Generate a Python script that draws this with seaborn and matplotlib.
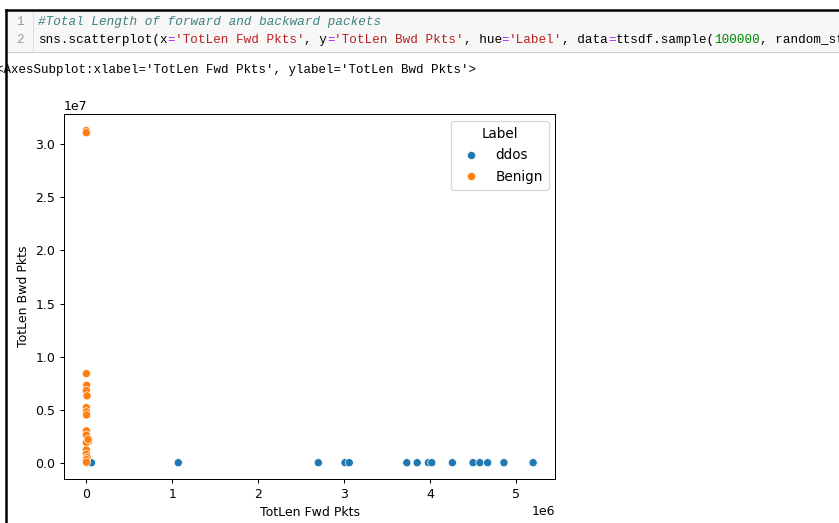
import pandas as pd
import numpy as np
import matplotlib
matplotlib.use('Agg')
import matplotlib.pyplot as plt
import seaborn as sns
from matplotlib.patches import Rectangle
from matplotlib.lines import Line2D

# ddos flows: almost no backward bytes, big forward totals
ddos_fwd = [10000, 60000, 1070000, 2700000, 3010000, 3060000, 3730000, 3850000,
            3980000, 4020000, 4260000, 4500000, 4580000, 4670000, 4860000, 5200000]
ddos_bwd = [0] * len(ddos_fwd)

# benign flows: tiny forward, spread of backward totals
benign_fwd = [0, 0, 0, 5000, 0, 8000, 0, 0, 3000, 0, 0, 27000, 0, 20000,
              0, 0, 10000, 0, 0]
benign_bwd = [31300000, 31100000, 8400000, 7300000, 6800000, 6300000, 5200000,
              4800000, 4500000, 3000000, 2600000, 2000000, 1900000, 2200000,
              1200000, 800000, 500000, 300000, 50000]

labels = ['ddos'] * len(ddos_fwd) + ['Benign'] * len(benign_fwd)
ttsdf = pd.DataFrame({
    'TotLen Fwd Pkts': ddos_fwd + benign_fwd,
    'TotLen Bwd Pkts': ddos_bwd + benign_bwd,
    'Label': labels,
})

W, H = 839, 523
DPI = 90
fig = plt.figure(figsize=(W / DPI, H / DPI), dpi=DPI)

def fx(px):
    return px / W

def fy(py):
    return 1 - py / H

def pt(px):
    return px * 72 / DPI

# notebook cell chrome
fig.add_artist(Rectangle((fx(7), fy(52)), fx(W - 7), fy(11) - fy(52),
                         facecolor='#f7f7f7', edgecolor='none'))
fig.add_artist(Line2D([fx(7), 1], [fy(52), fy(52)], color='#cfcfcf', lw=0.8))
fig.add_artist(Line2D([fx(33), fx(33)], [fy(11), fy(52)], color='#dddddd', lw=0.8))
fig.add_artist(Line2D([fx(6), 1], [fy(10), fy(10)], color='black', lw=pt(2.5)))
fig.add_artist(Line2D([fx(6), fx(6)], [fy(10), 0], color='black', lw=pt(2.5)))

mono = 'Liberation Mono'
cw = 7.6                 # px per char
fs = pt(cw / 0.6)

fig.text(fx(20), fy(22), '1', family=mono, fontsize=fs, color='#999999', ha='center', va='center')
fig.text(fx(20), fy(40), '2', family=mono, fontsize=fs, color='#999999', ha='center', va='center')
fig.text(fx(38), fy(22), '#Total Length of forward and backward packets', family=mono,
         fontsize=fs, color='#408080', style='italic', va='center')

segments = [
    ("sns.scatterplot(x", 'black'), ("=", '#aa22ff'), ("'TotLen Fwd Pkts'", '#ba2121'),
    (", y", 'black'), ("=", '#aa22ff'), ("'TotLen Bwd Pkts'", '#ba2121'),
    (", hue", 'black'), ("=", '#aa22ff'), ("'Label'", '#ba2121'),
    (", data", 'black'), ("=", '#aa22ff'), ("ttsdf.sample(", 'black'),
    ("100000", '#008800'), (", random_state", 'black'),
]
n = 0
for s, c in segments:
    fig.text(fx(38 + n * cw), fy(40), s, family=mono, fontsize=fs, color=c, va='center')
    n += len(s)

fig.text(fx(-4), fy(70), "<AxesSubplot:xlabel='TotLen Fwd Pkts', ylabel='TotLen Bwd Pkts'>",
         family=mono, fontsize=pt(7.5 / 0.6), color='black', va='center')

ax = fig.add_axes([fx(64), fy(479.3), fx(555.5) - fx(64), fy(114) - fy(479.3)])
sns.scatterplot(x='TotLen Fwd Pkts', y='TotLen Bwd Pkts', hue='Label', data=ttsdf, ax=ax, s=42)
ax.legend(title='Label', loc='upper right', fontsize=10.8, title_fontsize=10.8,
          labelspacing=0.55, borderpad=0.45)

fig.savefig('out.png', dpi=DPI)
